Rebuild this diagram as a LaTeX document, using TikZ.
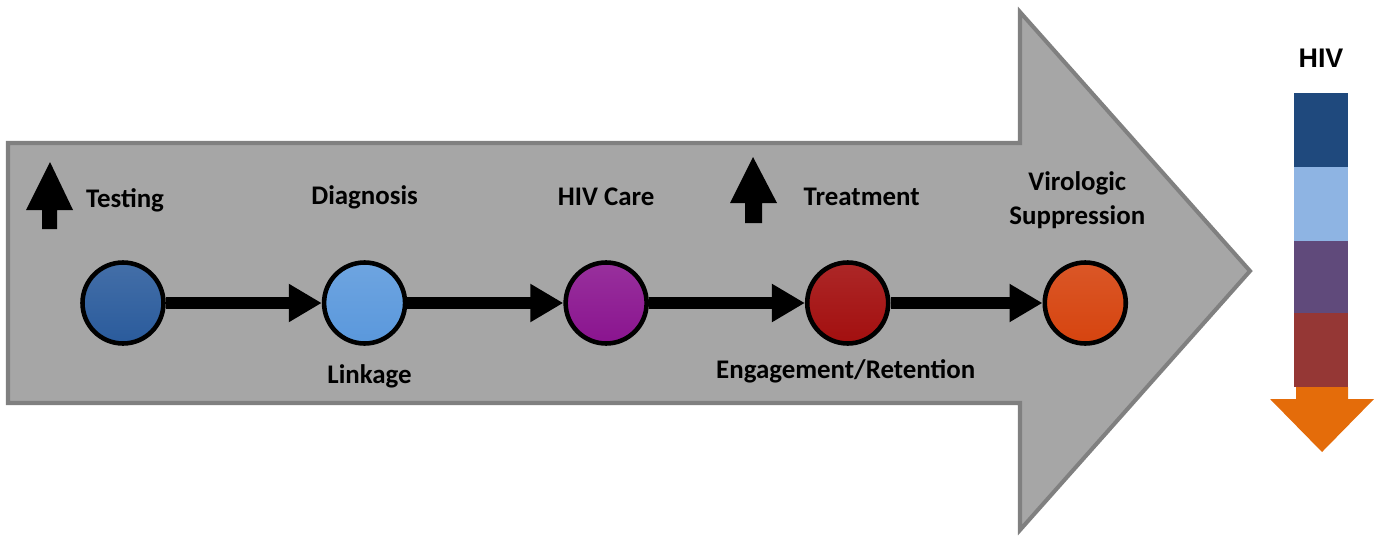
\documentclass[tikz,border=0pt]{standalone}
\usepackage{fontspec}
\setmainfont{Carlito}
\newfontfamily\hivfont{Liberation Sans}
\usepackage{tikz}
\usetikzlibrary{arrows.meta,positioning}

\definecolor{bandgray}{HTML}{A6A6A6}
\definecolor{bandedge}{HTML}{808080}
\definecolor{testblue}{HTML}{2A5B9C}
\definecolor{diagblue}{HTML}{5A98DC}
\definecolor{carepurple}{HTML}{8A148F}
\definecolor{treatred}{HTML}{A30F0F}
\definecolor{supporange}{HTML}{D6440F}
\definecolor{barblue}{HTML}{1F497D}
\definecolor{barlight}{HTML}{8EB4E3}
\definecolor{barpurple}{HTML}{604A7B}
\definecolor{barred}{HTML}{953735}
\definecolor{barorange}{HTML}{E46C0A}

\begin{document}
\begin{tikzpicture}[
    node distance=3.12cm,
    >={Triangle[length=6.6mm,width=7.2mm]},
    font=\bfseries\fontsize{15.3}{19.4}\selectfont,
    stage/.style={
		circle,
		draw=black,
		line width=2.6pt,
		minimum size=1.62cm,
		inner sep=0pt
	},
	link/.style={
		->,
		line width=6.8pt
	},
	caption/.style={
		align=center,
		inner sep=0pt
	}
  ]
  \useasboundingbox (0,0) rectangle (27.72,10.70);

  % the big grey arrow in the background
  \filldraw [fill=bandgray, draw=bandedge, line width=2.3pt]
    (0.16,7.84) -- (20.40,7.84) -- (20.40,10.46) -- (25.00,5.28)
    -- (20.40,0.10) -- (20.40,2.64) -- (0.16,2.64) -- cycle;

  % We start by placing the stages
  \node [stage, top color=testblue!88!white, bottom color=testblue] (testing) at (2.46,4.64) {};
  \node [stage, right=of testing, top color=diagblue!88!white, bottom color=diagblue] (diagnosis) {};
  \node [stage, right=of diagnosis, top color=carepurple!88!white, bottom color=carepurple] (care) {};
  \node [stage, right=of care, top color=treatred!90!white, bottom color=treatred] (treatment) {};
  \node [stage, right=of treatment, xshift=-0.08cm, top color=supporange!90!white, bottom color=supporange] (suppression) {};

  \draw [link] (testing) -- (diagnosis);
  \draw [link] (diagnosis) -- (care);
  \draw [link] (care) -- (treatment);
  \draw [link] (treatment) -- (suppression);

  % captions
  \node [caption, above of=testing, node distance=2.06cm, xshift=0.04cm] (testingLabel) {Testing};
  \node [caption, above of=diagnosis, node distance=2.12cm] (diagnosisLabel) {Diagnosis};
  \node [caption, above of=care, node distance=2.12cm] (careLabel) {HIV Care};
  \node [caption, above of=treatment, node distance=2.12cm, xshift=0.28cm] (treatmentLabel) {Treatment};
  \node [caption, above of=suppression, node distance=2.06cm, xshift=-0.16cm] (suppressionLabel) {Virologic\\Suppression};
  \node [caption, below of=diagnosis, node distance=1.46cm, xshift=0.1cm] (linkageLabel) {Linkage};
  \node [caption, below of=treatment, node distance=1.36cm, xshift=-0.04cm] (retentionLabel) {Engagement/Retention};

  % up arrows
  \fill (0.84,6.12) -- (1.14,6.12) -- (1.14,6.50) -- (1.46,6.50) -- (1.00,7.46)
    -- (0.52,6.50) -- (0.84,6.50) -- cycle;
  \fill (14.90,6.24) -- (15.24,6.24) -- (15.24,6.64) -- (15.54,6.64) -- (15.06,7.56)
    -- (14.60,6.64) -- (14.90,6.64) -- cycle;

  % HIV bar on the right
  \node [font=\hivfont\bfseries\fontsize{15.3}{18}\selectfont] (hiv) at (26.42,9.54) {HIV};
  \fill [barblue] (25.88,7.36) rectangle (26.96,8.84);
  \fill [barlight] (25.88,5.88) rectangle (26.96,7.36);
  \fill [barpurple] (25.88,4.44) rectangle (26.96,5.88);
  \fill [barred] (25.88,2.96) rectangle (26.96,4.44);
  \fill [barorange] (25.92,2.96) -- (26.96,2.96) -- (26.96,2.72) -- (27.48,2.72)
    -- (26.44,1.66) -- (25.40,2.72) -- (25.92,2.72) -- cycle;

\end{tikzpicture}
\end{document}
